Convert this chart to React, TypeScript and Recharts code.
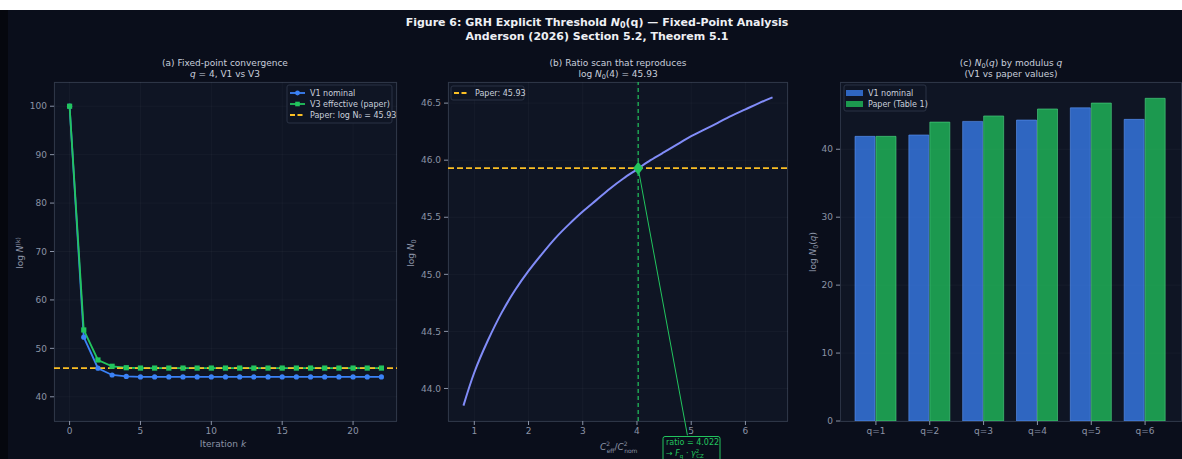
import React from 'react';
import {
  LineChart,
  ComposedChart,
  BarChart,
  Line,
  Bar,
  XAxis,
  YAxis,
  CartesianGrid,
  ReferenceLine,
  ReferenceDot,
} from 'recharts';

// ---------- data ----------
const iterK = [0, 1, 2, 3, 4, 5, 6, 7, 8, 9, 10, 11, 12, 13, 14, 15, 16, 17, 18, 19, 20, 21, 22];
const v1Nominal = [100, 52.3, 45.9, 44.5, 44.2, 44.1, 44.1, 44.1, 44.1, 44.1, 44.1, 44.1, 44.1, 44.1, 44.1, 44.1, 44.1, 44.1, 44.1, 44.1, 44.1, 44.1, 44.1];
const v3Effective = [100, 53.8, 47.6, 46.3, 46.0, 45.93, 45.93, 45.93, 45.93, 45.93, 45.93, 45.93, 45.93, 45.93, 45.93, 45.93, 45.93, 45.93, 45.93, 45.93, 45.93, 45.93, 45.93];
const paperLogN0 = 45.93;

const ratioX = [0.8, 1.0, 1.25, 1.5, 1.75, 2.0, 2.25, 2.5, 2.75, 3.0, 3.25, 3.5, 3.75, 4.0, 4.25, 4.5, 4.75, 5.0, 5.25, 5.5, 5.75, 6.0, 6.25, 6.5];
const ratioLogN0 = [43.85, 44.14, 44.42, 44.66, 44.86, 45.03, 45.18, 45.32, 45.44, 45.55, 45.65, 45.75, 45.84, 45.92, 46.0, 46.07, 46.14, 46.21, 46.27, 46.33, 46.39, 46.445, 46.5, 46.55];
const ratioFound = 4.022;
const annotationAnchor = { x: 4.93, y: 43.59 };

const qLabels = ['q=1', 'q=2', 'q=3', 'q=4', 'q=5', 'q=6'];
const v1Bars = [41.9, 42.1, 44.1, 44.3, 46.1, 44.4];
const paperBars = [41.9, 44.0, 44.9, 45.93, 46.8, 47.5];

const kTicks = [0, 5, 10, 15, 20];
const aYTicks = [40, 50, 60, 70, 80, 90, 100];
const bXTicks = [1, 2, 3, 4, 5, 6];
const bYTicks = [44.0, 44.5, 45.0, 45.5, 46.0, 46.5];
const cYTicks = [0, 10, 20, 30, 40];

const convData = iterK.map((k, i) => ({ k, v1: v1Nominal[i], v3: v3Effective[i] }));
const scanData = ratioX.map((r, i) => ({ r, n: ratioLogN0[i] }));
const barData = qLabels.map((q, i) => ({ q, v1: v1Bars[i], paper: paperBars[i] }));

// ---------- style ----------
const FONT = '"DejaVu Sans", sans-serif';
const FIG_BG = '#0a0e1b';
const PLOT_BG = '#0f1524';
const SPINE = '#2a3244';
const TICK = '#8a93a6';
const TEXT = '#c9cfdb';
const TITLE = '#eef0f4';
const BLUE = '#3b82f6';
const GREEN = '#22c55e';
const ORANGE = '#fbbf24';
const LAV = '#818cf8';

const tickStyle = { fill: TICK, fontSize: 9, fontFamily: FONT };

const SquareDot = (props: any) => {
  const { cx, cy } = props;
  if (cx == null || cy == null) return null;
  return <rect x={cx - 2.6} y={cy - 2.6} width={5.2} height={5.2} fill={GREEN} />;
};
const CircleDot = (props: any) => {
  const { cx, cy } = props;
  if (cx == null || cy == null) return null;
  return <circle cx={cx} cy={cy} r={2.6} fill={BLUE} />;
};
const Diamond = (props: any) => {
  const { cx, cy } = props;
  if (cx == null || cy == null) return null;
  return <polygon points={`${cx},${cy - 6.5} ${cx + 5},${cy} ${cx},${cy + 6.5} ${cx - 5},${cy}`} fill={GREEN} />;
};

const PlotBg = ({ x, y, w, h }: { x: number; y: number; w: number; h: number }) => (
  <div
    style={{
      position: 'absolute',
      left: x,
      top: y,
      width: w,
      height: h,
      background: PLOT_BG,
      boxSizing: 'border-box',
      border: `1px solid ${SPINE}`,
    }}
  />
);

export default function App() {
  return (
    <div style={{ position: 'absolute', left: 0, top: 0, width: 1182, height: 459, background: '#ffffff', overflow: 'hidden' }}>
      <div style={{ position: 'absolute', left: 0, top: 10, width: 1182, height: 449, background: FIG_BG }} />
      <div style={{ position: 'absolute', left: 0, top: 10, width: 8, height: 449, background: '#05070e' }} />

      <PlotBg x={54} y={82} w={343} h={340} />
      <PlotBg x={448} y={82} w={340} h={340} />
      <PlotBg x={840} y={82} w={342} h={340} />

      {/* (a) convergence */}
      <div style={{ position: 'absolute', left: 0, top: 60 }}>
        <LineChart width={400} height={399} data={convData} margin={{ top: 22, right: 3, bottom: 8, left: 0 }}>
          <CartesianGrid stroke="#ffffff" strokeOpacity={0.03} />
          <XAxis
            dataKey="k"
            type="number"
            domain={[-1.1, 23.1]}
            ticks={kTicks}
            allowDataOverflow
            height={30}
            tickSize={4}
            tickMargin={3}
            axisLine={false}
            tickLine={{ stroke: TICK }}
            tick={tickStyle}
          />
          <YAxis
            type="number"
            domain={[35, 105]}
            ticks={aYTicks}
            allowDataOverflow
            width={54}
            tickSize={4}
            tickMargin={3}
            axisLine={false}
            tickLine={{ stroke: TICK }}
            tick={tickStyle}
          />
          <Line dataKey="v1" stroke={BLUE} strokeWidth={1.8} dot={<CircleDot />} isAnimationActive={false} />
          <Line dataKey="v3" stroke={GREEN} strokeWidth={1.8} dot={<SquareDot />} isAnimationActive={false} />
          <ReferenceLine y={paperLogN0} stroke={ORANGE} strokeWidth={1.8} strokeDasharray="6 3" />
        </LineChart>
      </div>

      {/* (b) ratio scan */}
      <div style={{ position: 'absolute', left: 400, top: 60 }}>
        <ComposedChart width={390} height={399} data={scanData} margin={{ top: 22, right: 2, bottom: 8, left: 0 }}>
          <CartesianGrid stroke="#ffffff" strokeOpacity={0.03} />
          <XAxis
            dataKey="r"
            type="number"
            domain={[0.515, 6.785]}
            ticks={bXTicks}
            allowDataOverflow
            height={30}
            tickSize={4}
            tickMargin={3}
            axisLine={false}
            tickLine={{ stroke: TICK }}
            tick={tickStyle}
          />
          <YAxis
            type="number"
            domain={[43.715, 46.685]}
            ticks={bYTicks}
            allowDataOverflow
            width={48}
            tickSize={4}
            tickMargin={3}
            axisLine={false}
            tickLine={{ stroke: TICK }}
            tick={tickStyle}
            tickFormatter={(v: number) => v.toFixed(1)}
          />
          <Line dataKey="n" stroke={LAV} strokeWidth={2} dot={false} type="natural" isAnimationActive={false} />
          <ReferenceLine y={paperLogN0} stroke={ORANGE} strokeWidth={1.8} strokeDasharray="6 3" />
          <ReferenceLine x={ratioFound} stroke={GREEN} strokeWidth={1.2} strokeDasharray="4 3" />
          <ReferenceLine
            segment={[{ x: ratioFound, y: paperLogN0 }, annotationAnchor]}
            stroke={GREEN}
            strokeWidth={1}
            ifOverflow="visible"
          />
          <ReferenceDot x={ratioFound} y={paperLogN0} r={6} shape={<Diamond />} ifOverflow="visible" />
        </ComposedChart>
      </div>

      {/* (c) bars */}
      <div style={{ position: 'absolute', left: 790, top: 60 }}>
        <BarChart width={392} height={399} data={barData} margin={{ top: 22, right: 1, bottom: 8, left: 0 }} barGap={1}>
          <CartesianGrid stroke="#ffffff" strokeOpacity={0.03} vertical={false} />
          <XAxis
            dataKey="q"
            padding={{ left: 9, right: 9 }}
            height={30}
            tickSize={4}
            tickMargin={3}
            axisLine={false}
            tickLine={{ stroke: TICK }}
            tick={tickStyle}
          />
          <YAxis
            type="number"
            domain={[0, 49.9]}
            ticks={cYTicks}
            allowDataOverflow
            width={50}
            tickSize={4}
            tickMargin={3}
            axisLine={false}
            tickLine={{ stroke: TICK }}
            tick={tickStyle}
          />
          <Bar dataKey="v1" barSize={20} fill={BLUE} fillOpacity={0.75} stroke="#5c95f5" strokeWidth={0.6} isAnimationActive={false} />
          <Bar dataKey="paper" barSize={20} fill={GREEN} fillOpacity={0.75} stroke="#4fd484" strokeWidth={0.6} isAnimationActive={false} />
        </BarChart>
      </div>

      {/* text overlay */}
      <svg width={1182} height={459} style={{ position: 'absolute', left: 0, top: 0, pointerEvents: 'none' }} fontFamily={FONT}>
        <text x={597} y={26} textAnchor="middle" fill={TITLE} fontSize={11} fontWeight="bold">
          Figure 6: GRH Explicit Threshold <tspan fontStyle="italic">N</tspan>
          <tspan fontSize={8} dy={2}>0</tspan>
          <tspan dy={-2}>(q) — Fixed-Point Analysis</tspan>
        </text>
        <text x={597} y={40} textAnchor="middle" fill={TITLE} fontSize={11} fontWeight="bold">
          Anderson (2026) Section 5.2, Theorem 5.1
        </text>

        {/* subtitles */}
        <text x={225} y={66} textAnchor="middle" fill={TEXT} fontSize={9}>(a) Fixed-point convergence</text>
        <text x={225} y={77} textAnchor="middle" fill={TEXT} fontSize={9}>
          <tspan fontStyle="italic">q</tspan> = 4, V1 vs V3
        </text>
        <text x={618} y={66} textAnchor="middle" fill={TEXT} fontSize={9}>(b) Ratio scan that reproduces</text>
        <text x={618} y={77} textAnchor="middle" fill={TEXT} fontSize={9}>
          log <tspan fontStyle="italic">N</tspan>
          <tspan fontSize={6.5} dy={1.5}>0</tspan>
          <tspan dy={-1.5}>(4) = 45.93</tspan>
        </text>
        <text x={1011} y={66} textAnchor="middle" fill={TEXT} fontSize={9}>
          (c) <tspan fontStyle="italic">N</tspan>
          <tspan fontSize={6.5} dy={1.5}>0</tspan>
          <tspan dy={-1.5}>(</tspan>
          <tspan fontStyle="italic">q</tspan>) by modulus <tspan fontStyle="italic">q</tspan>
        </text>
        <text x={1011} y={77} textAnchor="middle" fill={TEXT} fontSize={9}>(V1 vs paper values)</text>

        {/* axis labels */}
        <text x={223} y={447} textAnchor="middle" fill={TICK} fontSize={9}>
          Iteration <tspan fontStyle="italic">k</tspan>
        </text>
        <text transform="translate(23,253) rotate(-90)" textAnchor="middle" fill={TICK} fontSize={9}>
          log <tspan fontStyle="italic">N</tspan>
          <tspan fontSize={6} dy={-3.5}>(k)</tspan>
        </text>
        <text transform="translate(414,253) rotate(-90)" textAnchor="middle" fill={TICK} fontSize={9}>
          log <tspan fontStyle="italic">N</tspan>
          <tspan fontSize={6.5} dy={1.5}>0</tspan>
        </text>
        <text x={600} y={450} fill={TICK} fontSize={9}>
          <tspan fontStyle="italic">C</tspan>
          <tspan fontSize={6} dy={-4}>2</tspan>
          <tspan fontSize={6} dx={-3.5} dy={7}>eff</tspan>
          <tspan dy={-3}>/</tspan>
          <tspan fontStyle="italic">C</tspan>
          <tspan fontSize={6} dy={-4}>2</tspan>
          <tspan fontSize={6} dx={-3.5} dy={7}>nom</tspan>
        </text>
        <text transform="translate(816,252) rotate(-90)" textAnchor="middle" fill={TICK} fontSize={9}>
          log <tspan fontStyle="italic">N</tspan>
          <tspan fontSize={6.5} dy={1.5}>0</tspan>
          <tspan dy={-1.5}>(</tspan>
          <tspan fontStyle="italic">q</tspan>)
        </text>

        {/* annotation box */}
        <rect x={663} y={436.5} width={57} height={26} rx={2} fill={FIG_BG} stroke={GREEN} strokeWidth={1} />
        <text x={666} y={444.5} fill={GREEN} fontSize={8}>ratio = 4.022</text>
        <text x={666} y={456} fill={GREEN} fontSize={8}>
          → <tspan fontStyle="italic">F</tspan>
          <tspan fontSize={5.5} dy={1.5}>q</tspan>
          <tspan dy={-1.5}> · </tspan>
          <tspan fontStyle="italic">γ</tspan>
          <tspan fontSize={5.5} dy={-3}>2</tspan>
          <tspan fontSize={5.5} dx={-3} dy={5}>CZ</tspan>
        </text>

        {/* legend (a) */}
        <rect x={287} y={85} width={105} height={38} rx={2} fill={PLOT_BG} fillOpacity={0.85} stroke={SPINE} />
        <line x1={290} y1={93} x2={305} y2={93} stroke={BLUE} strokeWidth={1.8} />
        <circle cx={297.5} cy={93} r={2.4} fill={BLUE} />
        <text x={310} y={96} fill={TEXT} fontSize={8}>V1 nominal</text>
        <line x1={290} y1={104} x2={305} y2={104} stroke={GREEN} strokeWidth={1.8} />
        <rect x={295.2} y={101.7} width={4.6} height={4.6} fill={GREEN} />
        <text x={310} y={107} fill={TEXT} fontSize={8}>V3 effective (paper)</text>
        <line x1={290} y1={115} x2={305} y2={115} stroke={ORANGE} strokeWidth={1.8} strokeDasharray="5 2.5" />
        <text x={310} y={118} fill={TEXT} fontSize={8}>Paper: log N₀ = 45.93</text>

        {/* legend (b) */}
        <rect x={451} y={86} width={73} height={14} rx={2} fill={PLOT_BG} fillOpacity={0.85} stroke={SPINE} />
        <line x1={454} y1={93} x2={469} y2={93} stroke={ORANGE} strokeWidth={1.8} strokeDasharray="5 2.5" />
        <text x={475} y={96} fill={TEXT} fontSize={8}>Paper: 45.93</text>

        {/* legend (c) */}
        <rect x={844} y={85} width={82} height={26} rx={2} fill={PLOT_BG} fillOpacity={0.85} stroke={SPINE} />
        <rect x={846} y={90} width={17} height={6} fill={BLUE} fillOpacity={0.75} />
        <text x={868} y={96} fill={TEXT} fontSize={8}>V1 nominal</text>
        <rect x={846} y={101} width={17} height={6} fill={GREEN} fillOpacity={0.75} />
        <text x={868} y={107} fill={TEXT} fontSize={8}>Paper (Table 1)</text>
      </svg>
    </div>
  );
}
